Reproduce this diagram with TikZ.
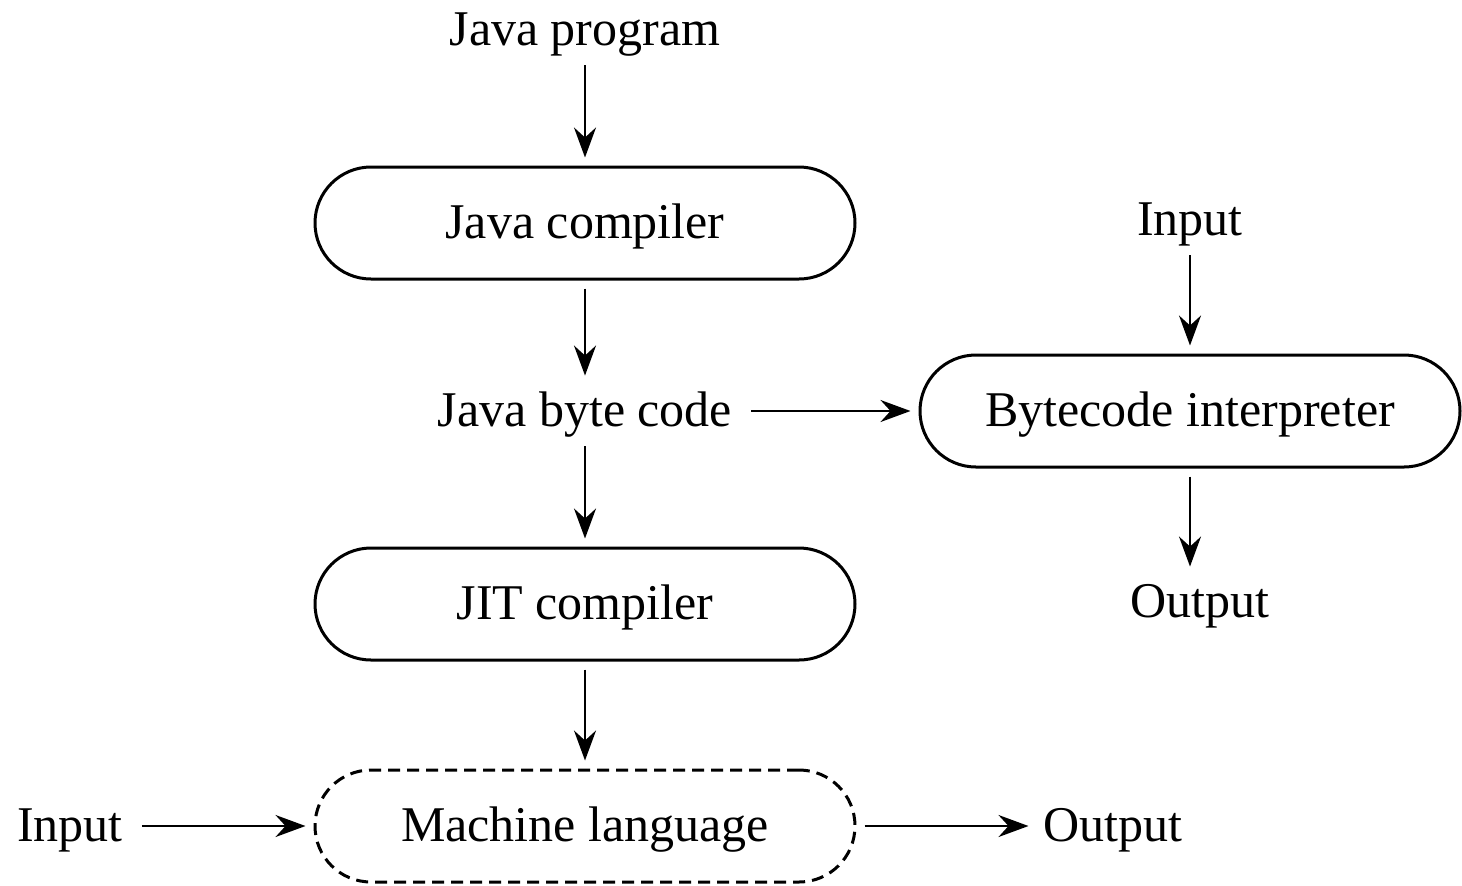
\documentclass[tikz,border=0pt]{standalone}
\usepackage{fontspec}
\setmainfont{Liberation Serif}
\usetikzlibrary{arrows.meta}
\begin{document}
\begin{tikzpicture}[x=0.5pt,y=-0.5pt,
        font=\fontsize{25}{30}\selectfont,
        every node/.style={text height=18pt,text depth=2.4pt},
        stage/.style={draw,line width=1.5pt,rounded corners=28pt,minimum width=270pt,minimum height=56pt},
        arr/.style={-{Stealth[length=15pt,width=11pt,inset=5pt]},line width=1.2pt,shorten >=4pt,shorten <=4pt}]
        \useasboundingbox (0,0) rectangle (1462,885);
        % main column
        \node (jprog) at (585,30) {Java program};
        \node[stage] (jcomp) at (585,223) {Java compiler};
        \node (jbyte) at (585,411) {Java byte code};
        \node[stage] (jit) at (585,604) {JIT compiler};
        \node[stage,dash pattern=on 6pt off 3.5pt] (mach) at (585,826) {Machine language};
        \node (in1) at (70,826) {Input};
        \node (out1) at (1113,826) {Output};
        % interpreter
        \node[stage] (interp) at (1190,411) {Bytecode interpreter};
        \node (in2) at (1190,220) {Input};
        \node (out2) at (1200,602) {Output};
        \draw[arr] (jprog) -- (jcomp);
        \draw[arr] (jcomp) -- (jbyte);
        \draw[arr] (jbyte) -- (jit);
        \draw[arr] (jit) -- (mach);
        \draw[arr,shorten <=6pt] (jbyte) -- (interp);
        \draw[arr] (in2) -- (interp);
        \draw[arr] (interp) -- (interp |- out2.north);
        \draw[arr,shorten <=6pt] (in1) -- (mach);
        \draw[arr] (mach) -- (out1);
    \end{tikzpicture}
\end{document}
